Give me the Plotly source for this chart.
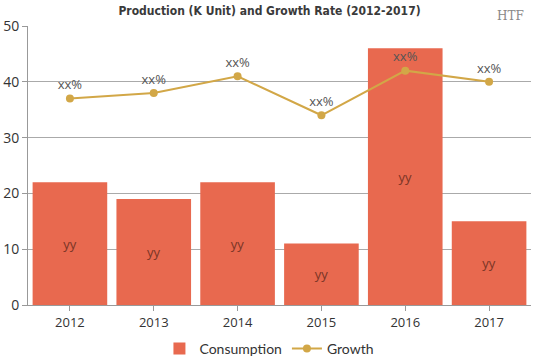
import plotly.graph_objects as go

years = ["2012", "2013", "2014", "2015", "2016", "2017"]
consumption = [22, 19, 22, 11, 46, 15]
growth = [37, 38, 41, 34, 42, 40]
bar_labels = ["yy"] * 6
line_labels = ["xx%"] * 6

fig = go.Figure()
fig.add_trace(go.Bar(
    x=years, y=consumption, name="Consumption",
    marker=dict(color="#E8694F", line=dict(width=0)),
    text=bar_labels, textposition="inside", insidetextanchor="middle",
    textfont=dict(color="#7a3526", size=13, family="Open Sans"),
    textangle=0,
))
fig.add_trace(go.Scatter(
    x=years, y=growth, name="Growth", mode="lines+markers+text",
    line=dict(color="#D2A747", width=2),
    marker=dict(color="#D2A747", size=8),
    text=line_labels, textposition="top center",
    textfont=dict(color="#555555", size=13, family="Open Sans"),
))

fig.update_layout(
    width=539, height=359,
    margin=dict(l=28, r=8, t=26, b=54, autoexpand=False),
    paper_bgcolor="white", plot_bgcolor="white",
    bargap=0.11,
    title=dict(
        text="<b>Production (K Unit) and Growth Rate (2012-2017)</b>",
        x=0.5, xref="container", xanchor="center",
        y=0.97, yref="container", yanchor="middle",
        font=dict(family="DejaVu Sans Condensed", size=12, color="#3a3a3a"),
    ),
    legend=dict(
        orientation="h", x=0.48, xanchor="center",
        y=-0.1, yanchor="top",
        font=dict(family="Lato", size=14, color="#333333"),
        itemwidth=30,
    ),
    showlegend=True,
    font=dict(family="Open Sans", size=13, color="#333333"),
)
fig.update_xaxes(
    automargin=False,
    showline=True, linecolor="#999999", linewidth=1,
    ticks="outside", ticklen=5, tickcolor="#999999",
    tickfont=dict(size=13, color="#333333"),
    tickangle=0,
    showgrid=False,
)
fig.update_yaxes(
    automargin=False,
    range=[0, 50], dtick=10,
    showline=True, linecolor="#999999", linewidth=1,
    ticks="outside", ticklen=5, tickcolor="#999999",
    gridcolor="#aaaaaa", gridwidth=1,
    zeroline=False,
    tickfont=dict(size=14, color="#333333"),
)
fig.add_annotation(
    text="HTF", xref="paper", yref="paper", x=0.99, y=1.005,
    xanchor="right", yanchor="bottom", showarrow=False,
    font=dict(family="DejaVu Serif", size=12, color="#888888"),
)
fig.write_html("out.html", config={"displayModeBar": False},
               post_script="document.body.style.margin='0';")
